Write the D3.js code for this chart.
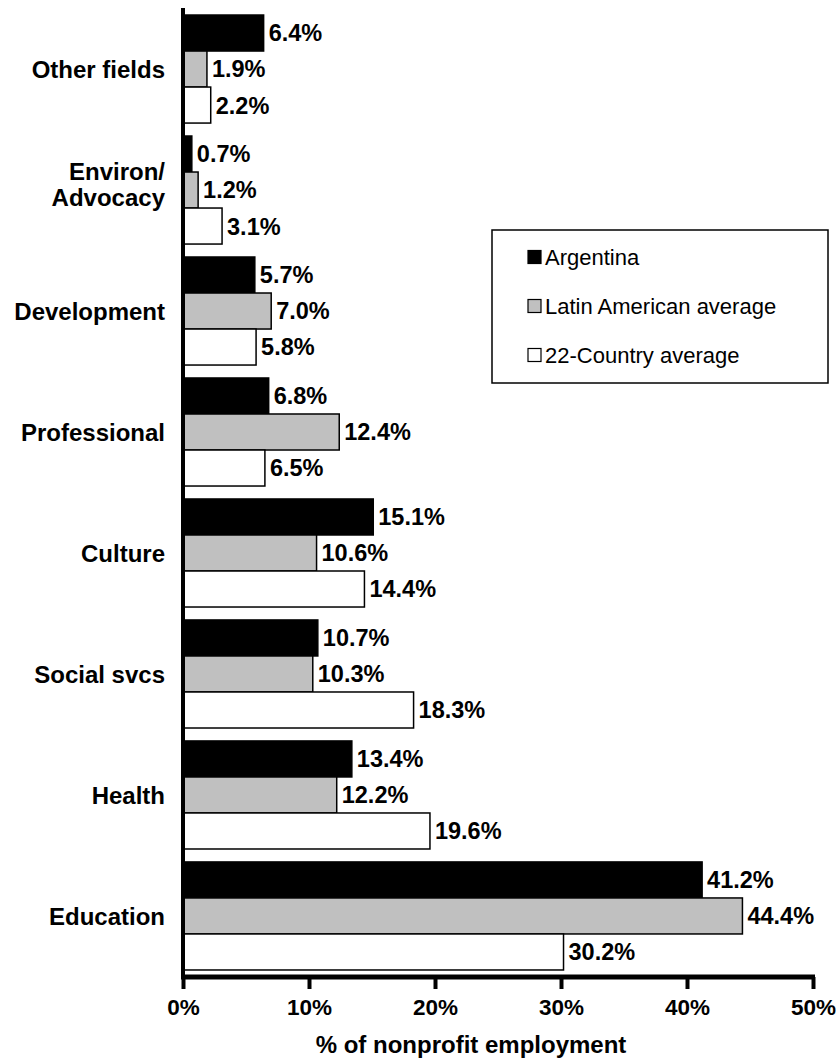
<!DOCTYPE html>
<html>
<head>
<meta charset="utf-8">
<script src="https://cdn.jsdelivr.net/npm/d3@7"></script>
<style>
  html, body { margin: 0; padding: 0; background: #fff; }
  svg { display: block; font-family: "Liberation Sans", Arial, sans-serif; }
</style>
</head>
<body>
<svg id="chart" width="836" height="1061"></svg>
<script>
const categories = ["Other fields", "Environ/\nAdvocacy", "Development", "Professional", "Culture", "Social svcs", "Health", "Education"];
const seriesNames = ["Argentina", "Latin American average", "22-Country average"];
const argentina = [6.4, 0.7, 5.7, 6.8, 15.1, 10.7, 13.4, 41.2];
const latinAmerica = [1.9, 1.2, 7.0, 12.4, 10.6, 10.3, 12.2, 44.4];
const country22 = [2.2, 3.1, 5.8, 6.5, 14.4, 18.3, 19.6, 30.2];
const xTicks = [0, 10, 20, 30, 40, 50];
const xTitle = "% of nonprofit employment";

const seriesValues = [argentina, latinAmerica, country22];
const fills = ["#000000", "#c0c0c0", "#ffffff"];

const svg = d3.select("#chart");
const x0 = 183, x1 = 813, yTop = 8, yBottom = 977;
const valueSize = 23.5, catSize = 24;

const x = d3.scaleLinear().domain([0, 50]).range([x0, x1]);
const y = d3.scaleBand().domain(categories).range([yTop, yBottom]).paddingInner(0.107).paddingOuter(0.058);
const yInner = d3.scaleBand().domain(d3.range(seriesNames.length)).range([0, y.bandwidth()]);

const rows = [];
categories.forEach((c, i) => {
  seriesValues.forEach((vals, s) => rows.push({ cat: c, s: s, v: vals[i] }));
});

// bars
svg.append("g").selectAll("rect").data(rows).join("rect")
  .attr("x", x(0))
  .attr("y", d => y(d.cat) + yInner(d.s))
  .attr("width", d => x(d.v) - x(0))
  .attr("height", yInner.bandwidth())
  .attr("fill", d => fills[d.s])
  .attr("stroke", "#000")
  .attr("stroke-width", 1.5);

// value labels
svg.append("g").selectAll("text").data(rows).join("text")
  .attr("x", d => x(d.v) + 5)
  .attr("y", d => y(d.cat) + yInner(d.s) + yInner.bandwidth() / 2)
  .attr("dy", "0.36em")
  .attr("font-size", valueSize)
  .attr("font-weight", "bold")
  .text(d => d.v.toFixed(1) + "%");

// category labels
const catG = svg.append("g");
categories.forEach(c => {
  const lines = c.split("\n");
  const cy = y(c) + y.bandwidth() / 2 - (lines.length > 1 ? 6 : 0);
  const lh = 26;
  const t = catG.append("text")
    .attr("text-anchor", "end")
    .attr("font-size", catSize)
    .attr("font-weight", "bold");
  lines.forEach((ln, k) => {
    t.append("tspan")
      .attr("x", 165)
      .attr("y", cy + (k - (lines.length - 1) / 2) * lh)
      .attr("dy", "0.36em")
      .text(ln);
  });
});

// x axis
const xAxis = d3.axisBottom(x).tickValues(xTicks).tickFormat(d => d + "%").tickSize(12).tickPadding(10);
const ax = svg.append("g").attr("transform", `translate(0,${yBottom})`).call(xAxis);
ax.select(".domain").attr("stroke", "#000").attr("stroke-width", 5).attr("d", `M${x0 - 2},0H${x1 + 2}`);
ax.selectAll(".tick line").attr("stroke", "#000").attr("stroke-width", 4);
ax.selectAll(".tick text").attr("font-size", 22.5).attr("font-weight", "bold")
  .attr("font-family", "Liberation Sans, Arial, sans-serif").attr("fill", "#000");

// y axis line
svg.append("line")
  .attr("x1", x0).attr("x2", x0)
  .attr("y1", yTop).attr("y2", yBottom)
  .attr("stroke", "#000").attr("stroke-width", 4);

// x title
svg.append("text")
  .attr("x", 471)
  .attr("y", 1053)
  .attr("text-anchor", "middle")
  .attr("font-size", 24)
  .attr("font-weight", "bold")
  .text(xTitle);

// legend
const lg = svg.append("g");
lg.append("rect").attr("x", 492).attr("y", 230).attr("width", 336).attr("height", 153)
  .attr("fill", "#fff").attr("stroke", "#000").attr("stroke-width", 1.5);
seriesNames.forEach((n, i) => {
  const cy = 257 + i * 49;
  lg.append("rect").attr("x", 528).attr("y", cy - 6.5).attr("width", 13).attr("height", 13)
    .attr("fill", fills[i]).attr("stroke", "#000").attr("stroke-width", 1.2);
  lg.append("text").attr("x", 545).attr("y", cy).attr("dy", "0.36em")
    .attr("font-size", 22).text(n);
});
</script>
</body>
</html>
